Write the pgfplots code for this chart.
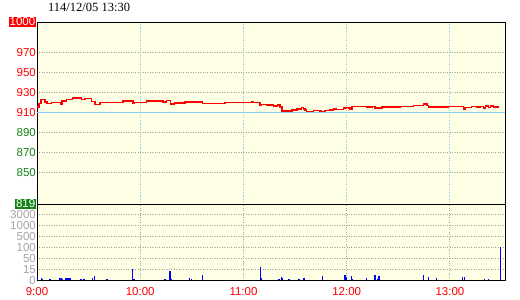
\documentclass[border=0pt]{standalone}
\usepackage{pgfplots}
\pgfplotsset{compat=1.18}
\usepackage{fontspec}
\setmainfont{Liberation Sans}
\newfontfamily\titlefont{Liberation Serif}
\definecolor{bgy}{RGB}{255,255,230}
\definecolor{gridgray}{RGB}{160,160,160}
\definecolor{gridblue}{RGB}{140,195,235}
\definecolor{lowgrid}{RGB}{150,170,185}
\definecolor{refblue}{RGB}{135,206,250}
\definecolor{pgreen}{RGB}{20,130,20}
\definecolor{pred}{RGB}{255,0,0}
\definecolor{lgray}{RGB}{165,165,165}
\setlength{\fboxsep}{0.6pt}
\begin{document}
\begin{tikzpicture}[x=1pt,y=1pt]
\useasboundingbox (0,0) rectangle (520,300);
\node[anchor=west,inner sep=0pt,font=\titlefont\fontsize{12.5}{12.5}\selectfont] at (48,293) {114/12/05 13:30};
\begin{axis}[
  at={(37pt,19.7pt)}, anchor=south west,
  width=468pt, height=76.3pt, scale only axis,
  xmin=0, xmax=272, ymin=0, ymax=7,
  axis background/.style={fill=bgy},
  axis line style={black, line width=0.9pt},
  major tick length=0pt,
  xtick={0,60,120,180,240},
  xticklabels={9:00,10:00,11:00,12:00,13:00},
  xticklabel style={text=pred, font=\fontsize{11.5}{11.5}\selectfont, yshift=-3.5pt},
  ytick={0,1,2,3,4,5,6},
  yticklabels={0,15,50,100,500,1000,3000},
  yticklabel style={text=lgray, font=\fontsize{11.5}{11.5}\selectfont, inner sep=1pt},
  xmajorgrids, ymajorgrids,
  x grid style={dotted, draw=lowgrid, line width=0.9pt},
  y grid style={dotted, draw=gridgray, line width=0.9pt},
]
\addplot[ycomb, blue, line width=1.2pt] coordinates {
(0.5,0.4)(2.5,0.2)(3.1,0.1)(7.6,0.1)(13.4,0.2)(14.4,0.2)(15,0.1)(16.9,0.2)
(18,0.2)(19.2,0.2)(25.6,0.1)(27.3,0.1)(32.2,0.2)(33.3,0.35)(40.7,0.1)
(55.4,1.07)(56.4,0.1)(74.4,0.1)(77.3,0.85)(78,0.1)(88.4,0.2)(90,0.1)(96,0.5)
(129.7,1.22)(130.3,0.2)(140.7,0.1)(141.9,0.3)(142.5,0.2)(146.5,0.1)(152.3,0.1)
(155.2,0.2)(165.7,0.4)(179,0.5)(179.7,0.3)(182.6,0.35)(183.2,0.1)(191.4,0.2)
(196.5,0.5)(198.2,0.1)(198.8,0.4)(224.7,0.5)(227.6,0.3)(232.3,0.2)(247.5,0.3)
(248.3,0.3)(259.9,0.1)(262.2,0.1)(269.5,3.05)
};
\end{axis}
\begin{axis}[
  at={(37pt,96pt)}, anchor=south west,
  width=468pt, height=182pt, scale only axis,
  xmin=0, xmax=272, ymin=819, ymax=1000,
  axis background/.style={fill=bgy},
  axis line style={black, line width=0.9pt},
  major tick length=0pt,
  xtick={60,120,180,240}, xticklabels={},
  ytick={819,850,870,890,910,930,950,970,1000},
  yticklabels={{\colorbox{pgreen}{\textcolor{white}{819}}},
    \textcolor{pgreen}{850},\textcolor{pgreen}{870},\textcolor{pgreen}{890},
    \textcolor{pred}{910},\textcolor{pred}{930},\textcolor{pred}{950},\textcolor{pred}{970},
    {\colorbox{pred}{\textcolor{white}{1000}}}},
  yticklabel style={font=\fontsize{11.5}{11.5}\selectfont, inner sep=1pt},
  xmajorgrids, ymajorgrids,
  x grid style={dotted, draw=gridblue, line width=0.9pt},
  y grid style={dotted, draw=gridgray, line width=0.9pt},
]
\addplot[refblue, line width=1.2pt] coordinates {(0,910) (272,910)};
\addplot[const plot, red, line width=1.4pt] coordinates {
(0,915.5)(1.2,919)(2.3,923)(4.7,920.3)(5.8,919)(8.5,920)(13.9,918)(14.6,921.5)
(17.3,923)(20.5,924.6)(26,923)(28,924)(31.8,921)(33.7,918)(36.6,920)(44.2,920)
(50,921.3)(55.8,919)(56.5,920)(63.8,921.3)(73.3,920.3)(75.4,922)(77.7,918.6)
(80,919.3)(86,920.3)(94.8,920.6)(96.3,919)(109.3,920)(124.8,921)(125.5,920)
(129.7,917.5)(130.6,918)(133.5,917.3)(137.4,916.6)(139.7,917.3)(141.3,915.6)
(142.3,911.6)(148.1,912.3)(151,913.3)(153.9,915)(154.8,913.3)(155.8,912.3)
(156.8,911)(160.6,912)(164.5,911.3)(165.5,911)(167.4,912)(170.3,912.6)
(172.3,913.6)(174.2,913)(178.1,914.3)(180,915)(181,914.3)(182,913.5)(183,916)
(191.7,915.3)(194.6,916)(196.5,914)(197.5,914.3)(200.4,915.3)(211,916)
(218.8,917)(224.6,918.3)(226.6,917)(227.5,915.3)(236.2,916)(237,915.3)
(239.1,916)(247.9,913.6)(248.8,915)(252.7,916)(255.6,915.3)(257.6,916)
(259.5,914.5)(260.5,916.3)(262.4,915)(263.4,916.3)(265.3,915.3)(268.8,915.3)
};
\end{axis}
\end{tikzpicture}
\end{document}
